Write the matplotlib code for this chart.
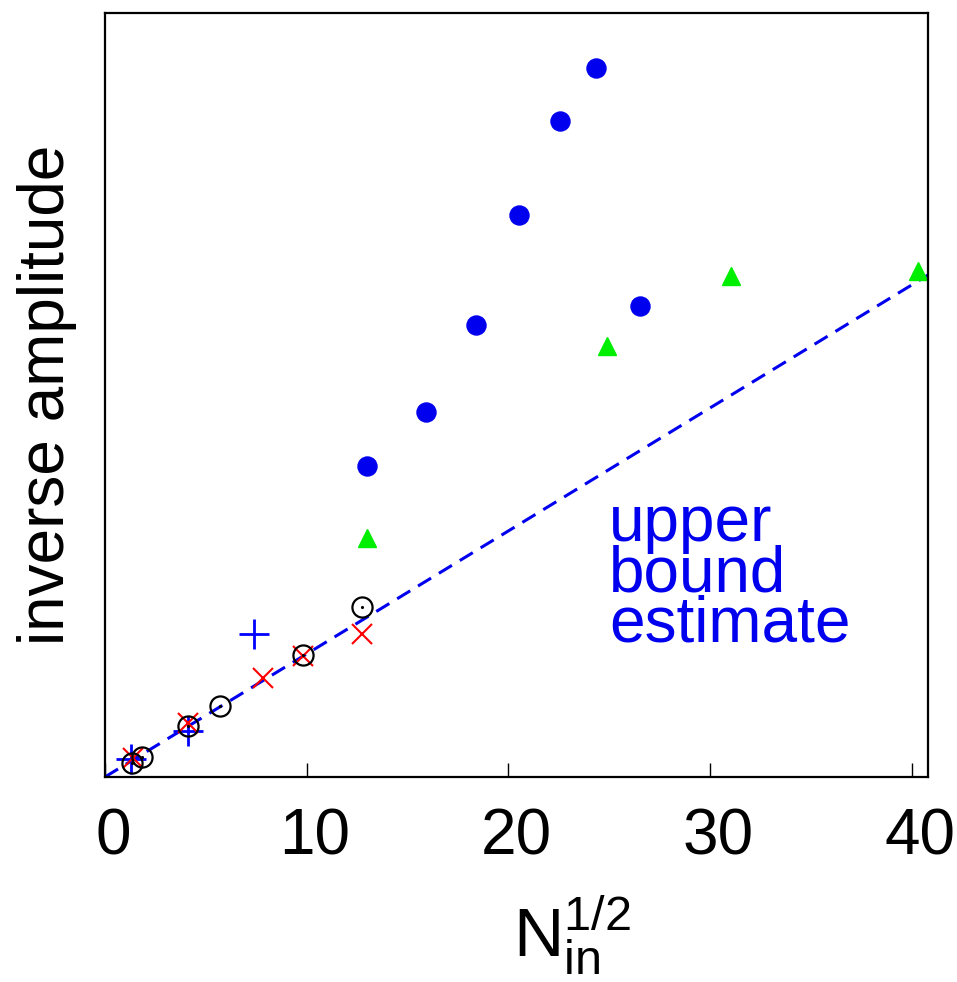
import matplotlib as mpl
import matplotlib.pyplot as plt
import matplotlib.transforms as mtransforms
import numpy as np

mpl.rcParams['font.family'] = ['Liberation Sans', 'DejaVu Sans']
mpl.rcParams['mathtext.fontset'] = 'custom'
mpl.rcParams['mathtext.rm'] = 'Liberation Sans'
mpl.rcParams['mathtext.it'] = 'Liberation Sans'

dots_x = [12.99, 15.91, 18.39, 20.53, 22.56, 24.34, 26.52]
dots_y = [25.3, 29.7, 36.7, 45.7, 53.3, 57.6, 38.3]

tri_x = [12.99, 24.89, 31.04, 40.3]
tri_y = [19.4, 35.0, 40.7, 41.1]

circ_x = [1.35, 1.82, 4.10, 5.70, 9.80, 12.73]
circ_y = [1.11, 1.65, 4.17, 5.77, 9.89, 13.85]

cross_x = [1.40, 4.10, 7.85, 9.80, 12.73]
cross_y = [1.57, 4.37, 8.02, 9.84, 11.6]

plus_x = [1.29, 4.10, 7.40]
plus_y = [1.44, 3.76, 11.59]

bound_x = [0, 40.8]
bound_y = [0, 40.8]

fig = plt.figure(figsize=(9.57, 9.82), dpi=100)
ax = fig.add_axes([0.1097, 0.2088, 0.86, 0.778])

ax.plot(bound_x, bound_y, '--', color='#0000ee', linewidth=2.2, dashes=(5, 3))
ax.plot(plus_x, plus_y, '+', color='#0000ff', markersize=21, markeredgewidth=2)
ax.plot(cross_x, cross_y, 'x', color='#ff0000', markersize=14, markeredgewidth=1.5)
ax.plot(circ_x, circ_y, 'o', mfc='none', mec='k', markersize=14.5, markeredgewidth=1.6)
ax.plot(circ_x, circ_y, '.', color='k', markersize=2.5)
ax.plot(tri_x, tri_y, '^', color='#00ee00', markersize=12.5)
ax.plot(dots_x, dots_y, 'o', color='#0000ee', markersize=13.7)

# baseline of the last line ("estimate")
ax.text(25.0, 10.98, 'upper\nbound\nestimate', color='#0000ee', fontsize=46,
        va='baseline', linespacing=0.8)

ax.set_xlim(0, 40.8)
ax.set_ylim(0, 62.1)
ax.set_xticks([0, 10, 20, 30, 40])
ax.set_yticks([])
ax.tick_params(axis='x', direction='in', length=10, width=1, labelsize=46, pad=22)
for s in ax.spines.values():
    s.set_linewidth(1.6)

# tick labels sit a little right of their ticks in the original
shift = mtransforms.ScaledTranslation(6/72, 0, fig.dpi_scale_trans)
for lab in ax.get_xticklabels():
    lab.set_transform(lab.get_transform() + shift)

ax.set_xlabel(r'$\mathregular{N_{in}^{1/2}}$', fontsize=50)
ax.xaxis.set_label_coords(0.567, -0.153)
ax.set_ylabel('inverse amplitude', fontsize=46, labelpad=20)

plt.savefig('out.png', dpi=100)
